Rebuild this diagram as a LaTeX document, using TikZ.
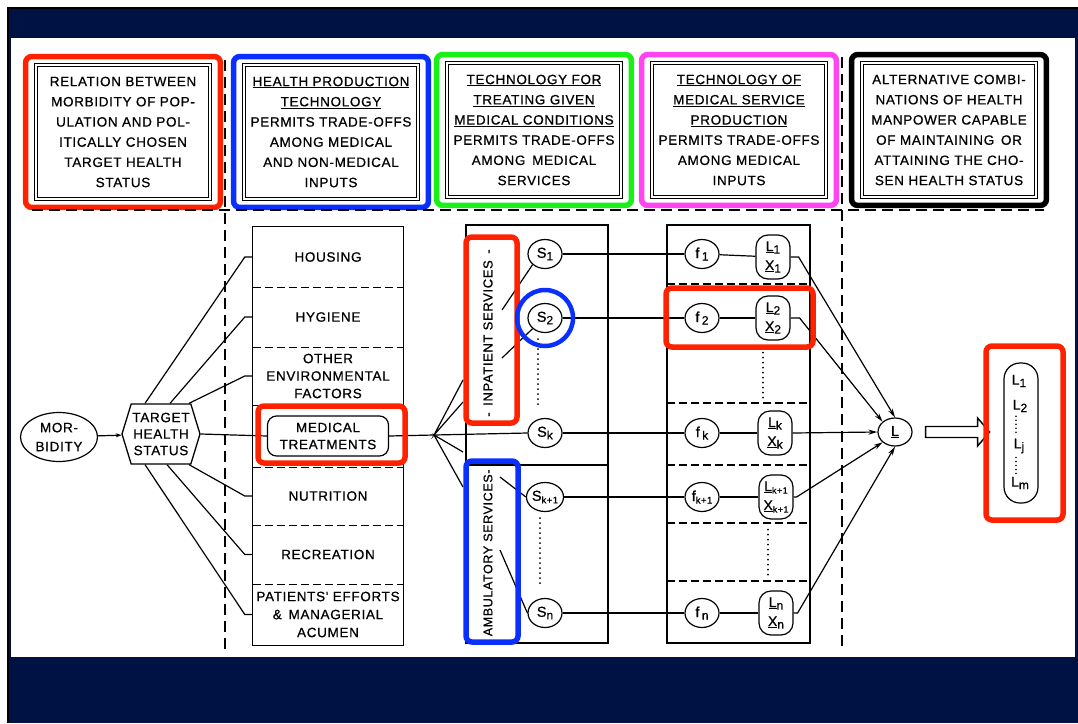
\documentclass[tikz,border=0pt]{standalone}
\usepackage{fontspec}
\setmainfont{Liberation Sans}
\newfontfamily\scanfont[LetterSpace=5,FakeBold=0.7]{Liberation Sans}
\usepackage{tikz}
\usetikzlibrary{calc,shapes.geometric,shapes.symbols,arrows.meta}
\definecolor{slidenavy}{HTML}{001244}
\definecolor{markred}{HTML}{FF2200}
\definecolor{markblue}{HTML}{0A30FF}
\definecolor{markgreen}{HTML}{18F018}
\definecolor{markpink}{HTML}{FF44F4}
\def\lowsub#1{\raisebox{-2.5pt}{\fontsize{12}{12}\selectfont #1}}
\tikzset{
	hilite/.style={line width=5.5pt, rounded corners=6pt},
	hdrbox/.style={draw, line width=0.8pt, double=white, double distance=1.8pt, minimum width=174pt, minimum height=134pt, inner sep=0pt, align=center, font=\scanfont\fontsize{13.5}{20.2}\selectfont},
	rowbox/.style={minimum width=150pt, inner sep=0pt, align=center, font=\scanfont\fontsize{13.5}{17.5}\selectfont},
	rndnode/.style={ellipse, draw, line width=1.2pt, minimum width=34pt, minimum height=29pt, inner sep=0pt, font=\scanfont\fontsize{14.5}{14.5}\selectfont},
	lxbox/.style={draw, line width=1.2pt, rounded corners=12pt, minimum width=34pt, minimum height=44pt, inner sep=0pt, align=center, font=\scanfont\fontsize{14}{19}\selectfont},
	vecitem/.style={inner sep=0pt, font=\scanfont\fontsize{14}{14}\selectfont},
	wire/.style={line width=1.2pt},
	toL/.style={line width=1.2pt, -{Stealth[length=9pt, width=5pt]}},
	bigdash/.style={line width=2.4pt, dash pattern=on 11pt off 6pt},
	rowdash/.style={line width=1.3pt, dash pattern=on 8pt off 4pt},
	dotcol/.style={line width=2pt, line cap=round, dash pattern=on 0pt off 5pt},
	vecdots/.style={line width=1.8pt, line cap=round, dash pattern=on 0pt off 4pt}
}

\begin{document}
\begin{tikzpicture}[x=1pt, y=-1pt]
		%%%%% START %%%%%
		\useasboundingbox (0,0) rectangle (1078,723);
		\fill[white] (0,0) rectangle (1078,723);
		\fill[slidenavy] (7,7) rectangle (1078,723);
		\draw[black, line width=1.5pt] (7.75,723) -- (7.75,7.75) -- (1078,7.75);
		\fill[white] (11,38) rectangle (1075,657);
		
		% headings
		\node[hdrbox] (hdrRel) at (123,132) {RELATION BETWEEN\\MORBIDITY OF POP-\\ULATION AND POL-\\ITICALLY CHOSEN\\TARGET HEALTH\\STATUS};
		\node[hdrbox] (hdrProd) at (331,132) {\underline{HEALTH PRODUCTION}\\\underline{TECHNOLOGY}\\PERMITS TRADE-OFFS\\AMONG MEDICAL\\AND NON-MEDICAL\\INPUTS};
		\node[hdrbox] (hdrTreat) at (534,130) {\underline{TECHNOLOGY FOR}\\\underline{TREATING GIVEN}\\\underline{MEDICAL CONDITIONS}\\PERMITS TRADE-OFFS\\AMONG\enspace MEDICAL\\SERVICES};
		\node[hdrbox] (hdrServ) at (739,130) {\underline{TECHNOLOGY OF}\\\underline{MEDICAL SERVICE}\\\underline{PRODUCTION}\\PERMITS TRADE-OFFS\\AMONG MEDICAL\\INPUTS};
		\node[hdrbox] (hdrAlt) at (949,130) {ALTERNATIVE COMBI-\\NATIONS OF HEALTH\\MANPOWER CAPABLE\\OF MAINTAINING\enspace OR\\ATTAINING THE CHO-\\SEN HEALTH STATUS};
		
		\draw[hilite, markred] ($(hdrRel.north west)+(-10,-8)$) rectangle ($(hdrRel.south east)+(10,8)$);
		\draw[hilite, markblue] ($(hdrProd.north west)+(-10,-8)$) rectangle ($(hdrProd.south east)+(10,8)$);
		\draw[hilite, markgreen] ($(hdrTreat.north west)+(-10,-8)$) rectangle ($(hdrTreat.south east)+(10,8)$);
		\draw[hilite, markpink] ($(hdrServ.north west)+(-10,-8)$) rectangle ($(hdrServ.south east)+(10,8)$);
		\draw[hilite, black] ($(hdrAlt.north west)+(-10,-8)$) rectangle ($(hdrAlt.south east)+(10,8)$);
		
		\draw[bigdash] (32,210) -- (1044,210);
		\draw[bigdash] (225,60) -- (225,650);
		\draw[bigdash] (842,57) -- (842,650);
		
		% morbidity and target
		\node[ellipse, draw, line width=1.2pt, minimum width=77pt, minimum height=49pt, inner sep=0pt, align=center, font=\scanfont\fontsize{13.5}{19}\selectfont] (morb) at (59,437) {MOR-\\BIDITY};
		\node[signal, signal to=west and east, signal pointer angle=146, draw, line width=1.3pt, minimum width=78pt, minimum height=60pt, inner sep=0pt, align=center, font=\scanfont\fontsize{13.5}{16.5}\selectfont] (tgt) at (161,434) {TARGET\\HEALTH\\STATUS};
		\draw[wire, -{Stealth[length=6pt, width=4pt]}] (morb) -- (tgt);
		
		% health production inputs
		\node[rowbox, minimum height=60pt] (housing) at (328,257) {HOUSING};
		\node[rowbox, minimum height=60pt] (hygiene) at (328,317) {HYGIENE};
		\node[rowbox, minimum height=58pt] (otherenv) at (328,376) {OTHER\\ENVIRONMENTAL\\FACTORS};
		\node[rowbox, minimum height=62pt] (medrow) at (328,436) {};
		\node[rowbox, minimum height=58pt] (nutrition) at (328,496) {NUTRITION};
		\node[rowbox, minimum height=59pt] (recreation) at (328,554.5) {RECREATION};
		\node[rowbox, minimum height=61pt, font=\scanfont\fontsize{13.5}{18}\selectfont] (patients) at (328,614.5) {PATIENTS' EFFORTS\\\&\enspace MANAGERIAL\\ACUMEN};
		\node[draw, line width=1.2pt, rounded corners=9pt, minimum width=121pt, minimum height=40pt, inner sep=0pt, align=center, font=\scanfont\fontsize{13.5}{17}\selectfont] (medtreat) at (328,436) {MEDICAL\\TREATMENTS};
		
		\draw[line width=1.3pt] (housing.north west) rectangle (patients.south east);
		\foreach \r in {housing,hygiene,otherenv,medrow,nutrition,recreation}
			\draw[rowdash] (\r.south west) -- (\r.south east);
		
		\draw[wire] ($(tgt.north)+(-16,0)$) -- ($(housing.west)+(-8,0)$) -- (housing.west);
		\draw[wire] ($(tgt.north)+(9,0)$) -- ($(hygiene.west)+(-8,0)$) -- (hygiene.west);
		\draw[wire] ($(tgt.north)+(28,0)$) -- ($(otherenv.west)+(-8,0)$) -- (otherenv.west);
		\draw[wire] (tgt.east) -- (medtreat.west);
		\draw[wire] ($(tgt.south)+(28,0)$) -- ($(nutrition.west)+(-8,0)$) -- (nutrition.west);
		\draw[wire] ($(tgt.south)+(6,0)$) -- ($(recreation.west)+(-8,0)$) -- (recreation.west);
		\draw[wire] ($(tgt.south)+(-16,0)$) -- ($(patients.west)+(-8,0)$) -- (patients.west);
		
		% medical services
		\draw[line width=1.3pt] (466,225) rectangle (608,643);
		\draw[line width=1.3pt] (466,465) -- (608,465);
		\node[rotate=90, font=\scanfont\fontsize{13}{13}\selectfont] (inpat) at (488,333) {-\enspace INPATIENT SERVICES\enspace -};
		\node[rotate=90, font=\scanfont\fontsize{12.5}{12.5}\selectfont] (ambul) at (488,557) {- AMBULATORY SERVICES-};
		
		\node[rndnode] (s1) at (545,254) {S\lowsub{1}};
		\node[rndnode] (s2) at (545,318) {S\lowsub{2}};
		\node[rndnode] (sk) at (545,433) {S\lowsub{k}};
		\node[rndnode] (sk1) at (545,497) {S\lowsub{\fontsize{9.5}{9.5}\selectfont k+1}};
		\node[rndnode] (sn) at (545,613) {S\lowsub{n}};
		\draw[dotcol] ($(s2.south)+(-7,6)$) -- ($(sk.north)+(-7,-10)$);
		\draw[dotcol] ($(sk1.south)+(-5,6)$) -- ($(sn.north)+(-5,-10)$);
		
		\coordinate (inpA) at (502,310);
		\coordinate (inpB) at (502,358);
		\coordinate (ambA) at (500,477);
		\coordinate (ambB) at (500,550);
		\draw[wire] (inpA) -- (s1.south west);
		\draw[wire] (inpB) -- (s2.south west);
		\draw[wire] (ambA) -- (sk1.west);
		\draw[wire] (ambB) -- (sn.west);
		
		\coordinate (fanS) at (434,435);
		\coordinate (fanA) at (463,380);
		\coordinate (fanB) at (463,402);
		\coordinate (fanC) at (463,452);
		\coordinate (fanD) at (463,487);
		\draw[wire] (medtreat.east) -- (fanS) -- (sk.west);
		\draw[wire] (fanA) -- (fanS) -- (fanB);
		\draw[wire] (fanC) -- (fanS) -- (fanD);
		
		% medical service production
		\draw[line width=1.3pt] (667,225) rectangle (810,643);
		\foreach \yy in {284,403,465,523,581}
			\draw[rowdash] (667,\yy) -- (810,\yy);
		
		\node[rndnode] (f1) at (702,254) {f\,\lowsub{1}};
		\node[rndnode] (f2) at (702,318) {f\,\lowsub{2}};
		\node[rndnode] (fk) at (702,433) {f\,\lowsub{k}};
		\node[rndnode] (fk1) at (702,497) {f\lowsub{\fontsize{9.5}{9.5}\selectfont k+1}};
		\node[rndnode] (fn) at (702,613) {f\,\lowsub{n}};
		
		\node[lxbox] (lx1) at (773,257) {\underline{L}\lowsub{1}\\\underline{X}\lowsub{1}};
		\node[lxbox] (lx2) at (773,318) {\underline{L}\lowsub{2}\\\underline{X}\lowsub{2}};
		\node[lxbox] (lxk) at (775,433) {\underline{L}\lowsub{k}\\\underline{X}\lowsub{k}};
		\node[lxbox] (lxk1) at (776,497) {\underline{L}\lowsub{\fontsize{9}{9}\selectfont k+1}\\\underline{X}\lowsub{\fontsize{9}{9}\selectfont k+1}};
		\node[lxbox] (lxn) at (776,613) {\underline{L}\lowsub{n}\\\underline{X}\lowsub{n}};
		\draw[dotcol] ($(lx2.south)+(-10,12)$) -- ($(lxk.north)+(-12,-10)$);
		\draw[dotcol] ($(lxk1.south)+(-8,10)$) -- ($(lxn.north)+(-8,-12)$);
		
		\draw[wire] (s1.east) -- (f1.west);
		\draw[wire] (s2.east) -- (f2.west);
		\draw[wire] (sk.east) -- (fk.west);
		\draw[wire] (sk1.east) -- (fk1.west);
		\draw[wire] (sn.east) -- (fn.west);
		\draw[wire] (f1) -- (lx1);
		\draw[wire] (f2) -- (lx2);
		\draw[wire] (fk) -- (lxk);
		\draw[wire] (fk1) -- (lxk1);
		\draw[wire] (fn) -- (lxn);
		
		% manpower combinations
		\node[ellipse, draw, line width=1.2pt, minimum width=34pt, minimum height=28pt, inner sep=0pt, font=\scanfont\fontsize{14.5}{14.5}\selectfont] (lsum) at (895,432) {\underline{L}};
		\draw[toL] (lx1.east) -- ++(8,0) -- (lsum.north);
		\draw[toL] (lx2.east) -- ++(9,0) -- (lsum.north west);
		\draw[toL] (lxk.east) -- (lsum.west);
		\draw[toL] (lxk1.east) -- ++(3,0) -- (lsum.south west);
		\draw[toL] (lxn.east) -- ++(4,0) -- (lsum.south);
		
		\coordinate (arrS) at ($(lsum.east)+(13,0)$);
		\draw[line width=1.4pt, fill=white] (arrS) -- ++(0,-5.5) -- ++(52,0) -- ++(0,-8.5) -- ++(12,14) -- ++(-12,14) -- ++(0,-8.5) -- ++(-52,0) -- cycle;
		
		\node[draw, line width=1.2pt, rounded corners=16pt, minimum width=34pt, minimum height=140pt] (lvec) at (1021,433) {};
		\node[vecitem] (vl1) at ($(lvec.center)+(-2,-52)$) {L\lowsub{1}};
		\node[vecitem] (vl2) at ($(lvec.center)+(-1,-27)$) {L\lowsub{2}};
		\node[vecitem] (vlj) at ($(lvec.center)+(-2,13)$) {L\lowsub{j}};
		\node[vecitem] (vlm) at ($(lvec.center)+(-1,50)$) {L\lowsub{m}};
		\draw[vecdots] ($(vl2.south)+(-4,4)$) -- ($(vlj.north)+(-3,-3)$);
		\draw[vecdots] ($(vlj.south)+(-3,4)$) -- ($(vlm.north)+(-4,-3)$);
		
		% coloured marks
		\draw[hilite, markred] (258,406) rectangle (405,463);
		\draw[hilite, markred] (466,237) rectangle (517,423);
		\draw[markblue, line width=4.5pt] (s2) circle (28);
		\draw[hilite, markblue] (466,461) rectangle (518,642);
		\draw[hilite, markred] (666,288) rectangle (813,347);
		\draw[hilite, markred] (986,346) rectangle (1063,520);
		%%%%% END %%%%%
\end{tikzpicture}
\end{document}
